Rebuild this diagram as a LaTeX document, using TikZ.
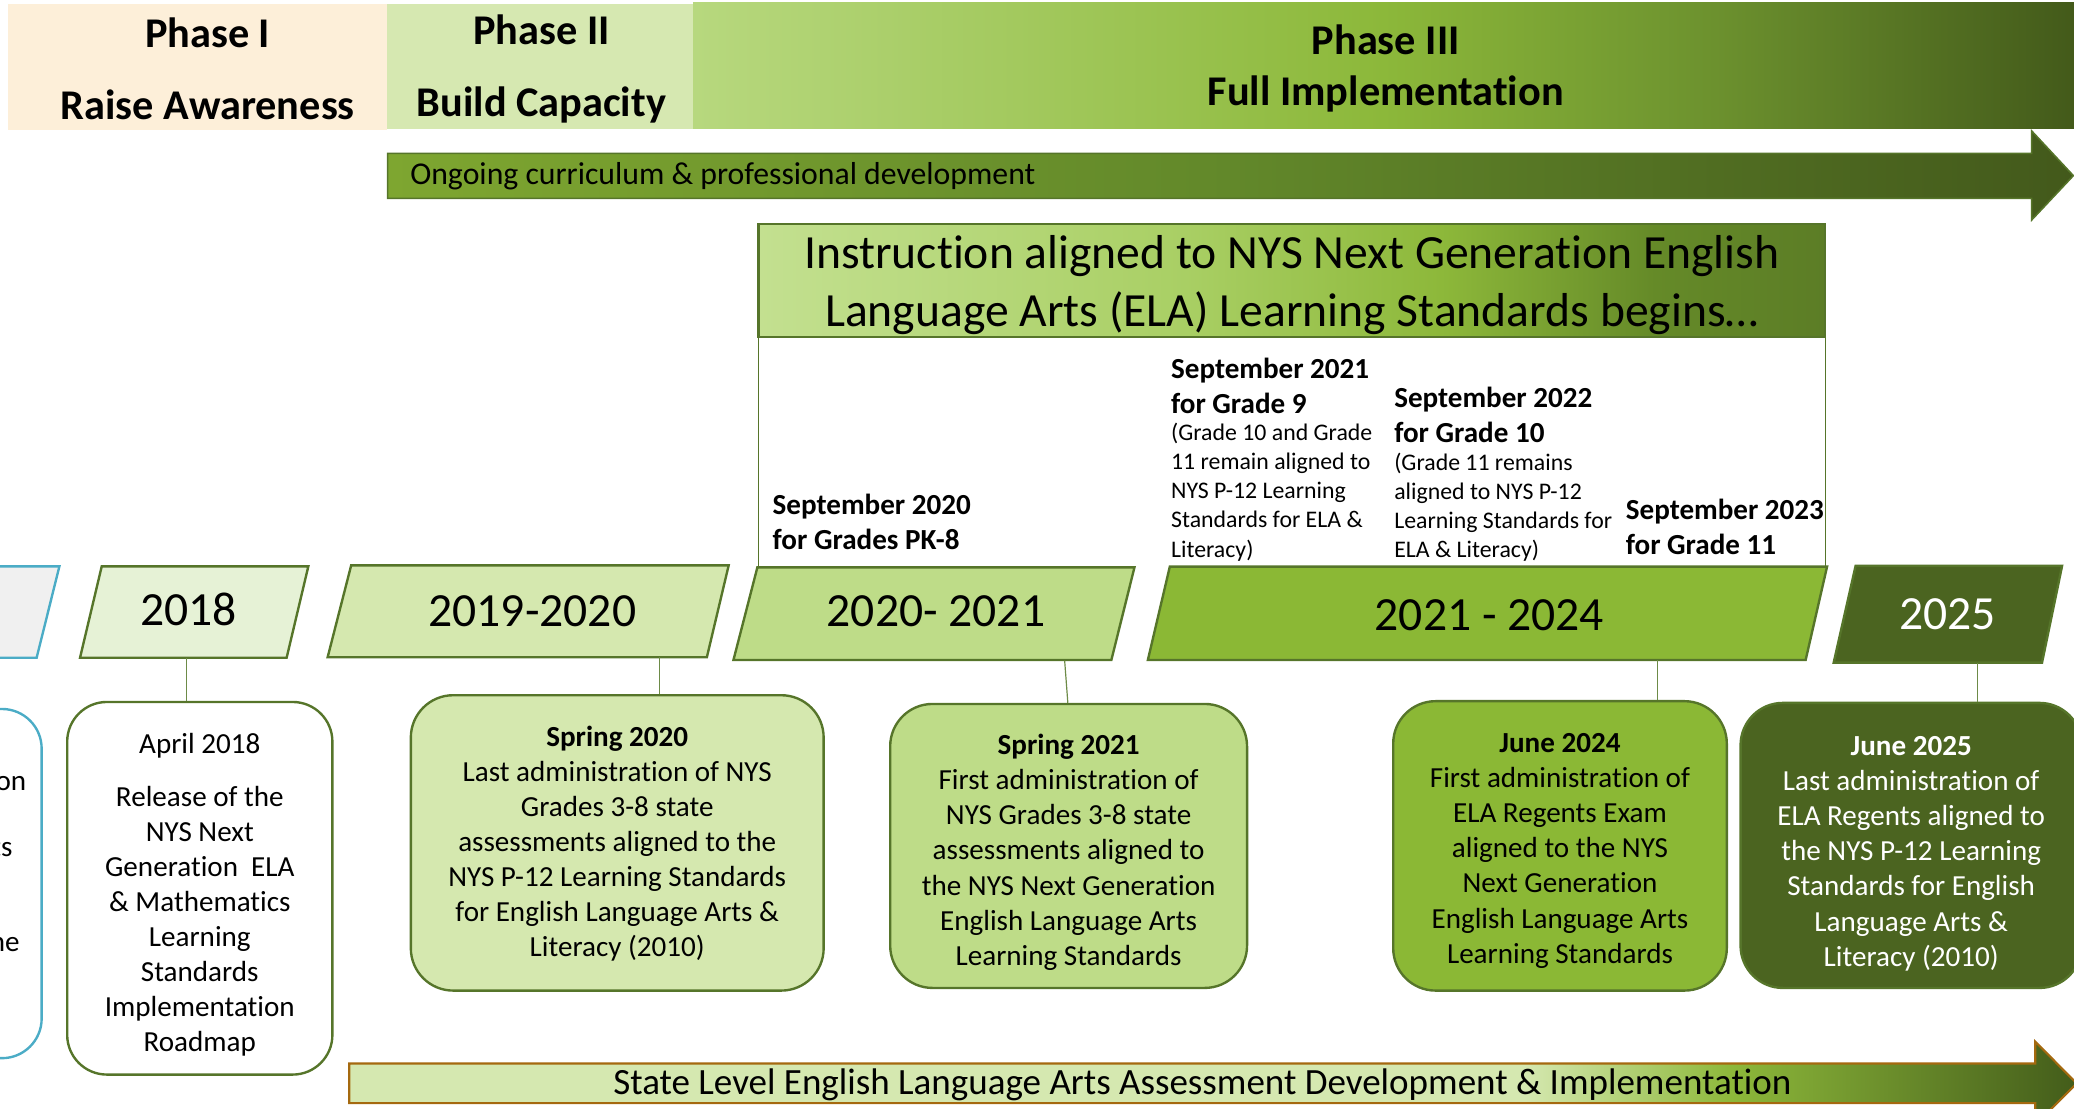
\documentclass[tikz,border=0pt]{standalone}
\usepackage{fontspec}
\setmainfont{Carlito}[Ligatures={NoCommon}]
\usetikzlibrary{calc}
\definecolor{phA}{HTML}{FDEFD9}
\definecolor{phB}{HTML}{D6E8B1}
\definecolor{gLight}{HTML}{B7D87E}
\definecolor{gMid}{HTML}{8CB83A}
\definecolor{gDeep}{HTML}{6C912E}
\definecolor{gDark}{HTML}{435A1A}
\definecolor{onA}{HTML}{7EA630}
\definecolor{onB}{HTML}{62882A}
\definecolor{onC}{HTML}{43591B}
\definecolor{inA}{HTML}{C3E090}
\definecolor{inB}{HTML}{A9CF64}
\definecolor{inC}{HTML}{8DB83A}
\definecolor{inD}{HTML}{658A28}
\definecolor{inE}{HTML}{5C7D26}
\definecolor{btA}{HTML}{D5E8B0}
\definecolor{btB}{HTML}{8DB83A}
\definecolor{btC}{HTML}{435C1A}
\definecolor{brd}{HTML}{56752A}
\definecolor{connc}{HTML}{6D8B47}
\definecolor{brown}{HTML}{A5690F}
\definecolor{tealc}{HTML}{4BACC6}
\definecolor{greyf}{HTML}{F0F0F0}
\definecolor{f18}{HTML}{E6F2D6}
\definecolor{f19}{HTML}{D5E8AF}
\definecolor{f20}{HTML}{BEDC88}
\definecolor{f21}{HTML}{8BB835}
\definecolor{f25}{HTML}{4B6420}
\pgfdeclarehorizontalshading{phIIIshade}{100bp}{color(0bp)=(gLight); color(25bp)=(gLight); color(50bp)=(gMid); color(62bp)=(gDeep); color(75bp)=(gDark); color(100bp)=(gDark)}
\pgfdeclarehorizontalshading{ongoshade}{100bp}{color(0bp)=(onA); color(25bp)=(onA); color(50bp)=(onB); color(75bp)=(onC); color(100bp)=(onC)}
\pgfdeclarehorizontalshading{instshade}{100bp}{color(0bp)=(inA); color(25bp)=(inA); color(45bp)=(inB); color(57bp)=(inC); color(67bp)=(inD); color(75bp)=(inE); color(100bp)=(inE)}
\pgfdeclarehorizontalshading{botshade}{100bp}{color(0bp)=(btA); color(25bp)=(btA); color(59bp)=(btA); color(65bp)=(btB); color(75bp)=(btC); color(100bp)=(btC)}
\begin{document}
\begin{tikzpicture}[x=1pt,y=-1pt,
  brdline/.style={draw=brd, line width=1.8pt},
  para/.style={brdline, line join=miter},
  rbox/.style={brdline, rounded corners=32pt, inner sep=0pt, align=center, anchor=north west, font=\fontsize{22}{26.5}\selectfont},
  conn/.style={draw=connc, line width=0.9pt},
  yr/.style={font=\fontsize{36}{43}\selectfont, inner sep=0pt},
  phtxt/.style={font=\bfseries\fontsize{32}{38.4}\selectfont, align=center, inner sep=0pt},
  septxt/.style={font=\bfseries\fontsize{22}{26.5}\selectfont, align=left, anchor=west, inner sep=0pt},
  smalltxt/.style={font=\fontsize{18}{22}\selectfont, align=left, anchor=west, inner sep=0pt},
  tealtxt/.style={font=\fontsize{22}{26.5}\selectfont, anchor=east, inner sep=0pt}
]
\useasboundingbox (0,0) rectangle (1568,838.4);

% ---------- phase header ----------
\fill[phA] (5.9,3) rectangle (292.6,98.3);
\fill[phB] (292.6,3) rectangle (524,97.5);
\shade[shading=phIIIshade] (524,2) rectangle (1568,97.5);
\node[phtxt] (ph1) at (157,52) {Phase I\\[15.7pt]Raise Awareness};
\node[phtxt] (ph2) at (409.3,52) {Phase II\\[15.7pt]Build Capacity};
\node[phtxt] (ph3) at (1047.6,52) {Phase III\\Full Implementation};

% ---------- ongoing arrow ----------
\shadedraw[shading=ongoshade, draw=brd, line width=1.2pt, line join=miter]
  (293,116) -- (1536,116) -- (1536,99) -- (1567.5,132.8) -- (1536,166.3) -- (1536,150) -- (293,150) -- cycle;
\node[anchor=west, inner sep=0pt, font=\fontsize{24}{28}\selectfont] (ongo) at (310,133) {Ongoing curriculum \& professional development};

% ---------- instruction box ----------
\draw[draw=brd, line width=1.1pt] (573.4,428) -- (573.4,169.4) -- (1380,169.4) -- (1380,428);
\shadedraw[shading=instshade, draw=brd, line width=1.6pt] (573.4,169.4) rectangle (1380,254.5);
\node[align=center, inner sep=0pt, font=\fontsize{36}{44}\selectfont] (inst) at (976.7,215.5)
  {Instruction aligned to NYS Next Generation English\\Language Arts (ELA) Learning Standards begins…};

\node[septxt] (s20) at (584,394.5) {September 2020\\for Grades PK-8};
\node[septxt] (s21) at (885.2,291.5) {September 2021\\for Grade 9};
\node[smalltxt] (s21n) at (885.2,372) {(Grade 10 and Grade\\11 remain aligned to\\NYS P-12 Learning\\Standards for ELA \&\\Literacy)};
\node[septxt] (s22) at (1053.9,313.5) {September 2022\\for Grade 10};
\node[smalltxt] (s22n) at (1053.9,383.5) {(Grade 11 remains\\aligned to NYS P-12\\Learning Standards for\\ELA \& Literacy)};
\node[septxt] (s23) at (1229,398.5) {September 2023\\for Grade 11};

% ---------- year parallelograms ----------
\draw[para, draw=tealc, fill=greyf] (-30,428.2) -- (44.9,428.2) -- (27.7,497.3) -- (-47,497.3) -- cycle;
\draw[para, fill=f18] (76.9,428.2) -- (233.1,428.2) -- (216.7,497.3) -- (60.5,497.3) -- cycle;
\draw[para, fill=f19] (265.5,427.4) -- (550.9,427.4) -- (534.4,496.9) -- (247.7,496.9) -- cycle;
\draw[para, fill=f20] (572.6,428.9) -- (857.7,428.9) -- (840.2,499) -- (554.5,499) -- cycle;
\draw[para, fill=f21] (884.4,428.4) -- (1381.3,428.4) -- (1365.1,499) -- (867.8,499) -- cycle;
\draw[para, fill=f25] (1402.9,427.7) -- (1559,427.7) -- (1543.8,501) -- (1386.3,501) -- cycle;

\node[yr] (y18) at (142.4,461) {2018};
\node[yr] (y19) at (402.4,462.4) {2019-2020};
\node[yr] (y20) at (707.6,462.4) {2020- 2021};
\node[yr] (y21) at (1126,465) {2021 - 2024};
\node[yr, text=white] (y25) at (1472.3,464) {2025};

\coordinate (c18) at (141.1,497.3);
\coordinate (c19) at (498.8,496.9);
\coordinate (c20) at (804.9,499.5);
\coordinate (c21) at (1253.4,499);
\coordinate (c25) at (1495,501);

% ---------- event boxes ----------
\draw[brdline, draw=tealc, fill=white, rounded corners=30pt] (-60,536) rectangle (31.5,800);
\node[tealtxt] (t1) at (20,592) {on};
\node[tealtxt] (t2) at (9.6,641) {ts};
\node[tealtxt] (t3) at (15,711.6) {he};

\node[rbox, rounded corners=30pt, fill=white, minimum width=200.5pt, minimum height=281.7pt] (b18) at (49.9,529.8)
  {\rule{0pt}{25pt}April 2018\\[13.5pt]Release of the\\NYS Next\\Generation~ ELA\\\& Mathematics\\Learning\\Standards\\Implementation\\Roadmap};
\node[rbox, fill=f19, minimum width=312.1pt, minimum height=223.3pt] (b20) at (309.7,524.7)
  {\rule{0pt}{17pt}\textbf{Spring 2020}\\Last administration of NYS\\Grades 3-8 state\\assessments aligned to the\\NYS P-12 Learning Standards\\for English Language Arts \&\\Literacy (2010)};
\node[rbox, fill=f20, minimum width=269.8pt, minimum height=214.7pt] (b21) at (672.1,531.3)
  {\rule{0pt}{25pt}\textbf{Spring 2021}\\First administration of\\NYS Grades 3-8 state\\assessments aligned to\\the NYS Next Generation\\English Language Arts\\Learning Standards};
\node[rbox, fill=f21, minimum width=252.2pt, minimum height=218.8pt] (b24) at (1052.4,529.2)
  {\rule{0pt}{22pt}\textbf{June 2024}\\First administration of\\ELA Regents Exam\\aligned to the NYS\\Next Generation\\English Language Arts\\Learning Standards};
\node[rbox, fill=f25, text=white, minimum width=258pt, minimum height=215.5pt] (b25) at (1315,530.5)
  {\rule{0pt}{27pt}\textbf{June 2025}\\Last administration of\\ELA Regents aligned to\\the NYS P-12 Learning\\Standards for English\\Language Arts \&\\Literacy (2010)};

\draw[conn] (c18) -- (c18 |- b18.north);
\draw[conn] (c19) -- (c19 |- b20.north);
\draw[conn] (c20) -- ($(b21.north)+(-0.6,0)$);
\draw[conn] (c21) -- (c21 |- b24.north);
\draw[conn] (c25) -- (c25 |- b25.north);

% ---------- bottom arrow ----------
\shadedraw[shading=botshade, draw=brown, line width=1.6pt, line join=miter]
  (264,804) -- (1538.7,804) -- (1538.7,787.5) -- (1570,819) -- (1538.7,850.5) -- (1538.7,834) -- (264,834) -- cycle;
\node[inner sep=0pt, font=\fontsize{28}{33}\selectfont] (state) at (909,820)
  {State Level English Language Arts Assessment Development \& Implementation};
\end{tikzpicture}
\end{document}
